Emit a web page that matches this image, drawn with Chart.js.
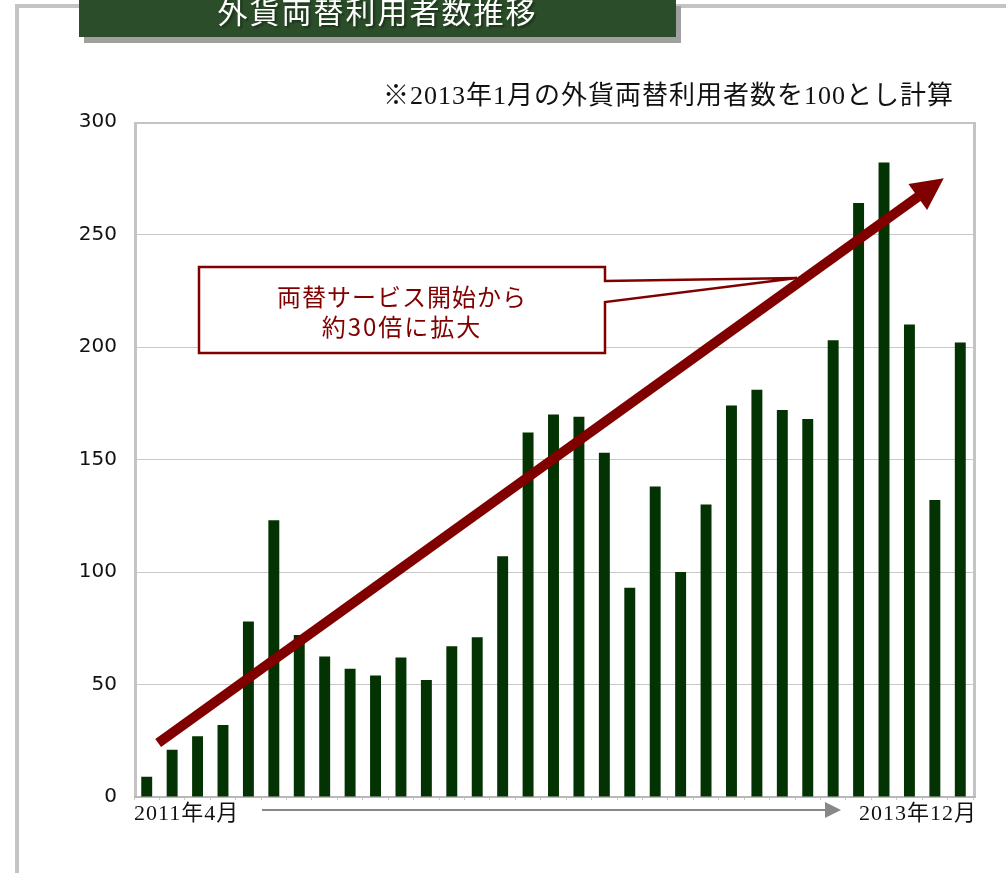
<!DOCTYPE html>
<html lang="ja">
<head>
<meta charset="utf-8">
<script src="https://cdn.jsdelivr.net/npm/chart.js@4/dist/chart.umd.min.js"></script>
<style>
  html, body { margin: 0; padding: 0; background: #fff; }
  #wrap { position: relative; width: 1006px; height: 873px; overflow: hidden; }
  #chart { position: absolute; left: 0; top: 0; }
  .frame-left { position: absolute; left: 15px; top: 4px; width: 4px; height: 869px; background: #c4c4c4; }
  .frame-top { position: absolute; left: 15px; top: 4px; width: 991px; height: 4px; background: #c4c4c4; }
  .title-shadow { position: absolute; left: 84px; top: 6px; width: 597px; height: 37px; background: #a0a0a0; }
  .title-box { position: absolute; left: 79px; top: 0; width: 597px; height: 37px; background: #2b4d29; overflow: hidden; }
  .title-box span { position: absolute; left: 0; top: -5px; width: 100%; text-align: center; color: #fff;
    font: 30px "Noto Sans CJK JP"; line-height: 30px; letter-spacing: 2px; text-shadow: 2px 2px 2px rgba(0,0,0,.35); }
  .note { position: absolute; left: 383px; top: 83px; color: #111; white-space: nowrap;
    font: 26px "Liberation Serif", "Noto Sans CJK JP"; line-height: 26px; letter-spacing: 1px; }
  .callout { position: absolute; left: 199px; top: 281px; width: 406px; text-align: center; color: #800000;
    font: 24px "Noto Sans CJK JP"; line-height: 30px; letter-spacing: 1px; }
  .callout .l2 { letter-spacing: 2px; }
  .xlab { position: absolute; top: 802px; color: #111; white-space: nowrap;
    font: 22px "Liberation Serif", "Noto Sans CJK JP"; line-height: 22px; letter-spacing: 1px; }
  .span-line { position: absolute; left: 262px; top: 809px; width: 566px; height: 2px; background: #888; }
  .span-head { position: absolute; left: 825px; top: 802px; width: 0; height: 0;
    border-left: 16px solid #888; border-top: 8px solid transparent; border-bottom: 8px solid transparent; }
</style>
</head>
<body>
<div id="wrap">
  <canvas id="chart" width="1006" height="873"></canvas>
  <div class="frame-left"></div>
  <div class="frame-top"></div>
  <div class="title-shadow"></div>
  <div class="title-box"><span id="title"></span></div>
  <div class="note" id="note"></div>
  <div class="callout" id="callout"></div>
  <div class="xlab" id="xFirst" style="left:134px"></div>
  <div class="xlab" id="xLast" style="right:29px"></div>
  <div class="span-line"></div>
  <div class="span-head"></div>
</div>
<script>
// 2011年4月〜2013年12月
const months = [
  '2011年4月', '2011年5月', '2011年6月', '2011年7月', '2011年8月', '2011年9月',
  '2011年10月', '2011年11月', '2011年12月', '2012年1月', '2012年2月', '2012年3月',
  '2012年4月', '2012年5月', '2012年6月', '2012年7月', '2012年8月', '2012年9月',
  '2012年10月', '2012年11月', '2012年12月', '2013年1月', '2013年2月', '2013年3月',
  '2013年4月', '2013年5月', '2013年6月', '2013年7月', '2013年8月', '2013年9月',
  '2013年10月', '2013年11月', '2013年12月'
];
// 2013年1月 = 100
const userIndex = [
  9, 21, 27, 32, 78, 123, 72, 62.5, 57, 54, 62, 52,
  67, 71, 107, 162, 170, 169, 153, 93, 138, 100, 130, 174,
  181, 172, 168, 203, 264, 282, 210, 132, 202
];
const yTicks = [0, 50, 100, 150, 200, 250, 300];

const titleText = '外貨両替利用者数推移';
const noteText = '※2013年1月の外貨両替利用者数を100とし計算';
const calloutLines = ['両替サービス開始から', '約30倍に拡大'];

// trend arrow and callout tip, in (category index, value)
const trendFrom = [0.45, 24];
const trendTo = [31.35, 275];
const calloutTip = [25.58, 230.7];

document.getElementById('title').textContent = titleText;
document.getElementById('note').textContent = noteText;
document.getElementById('callout').innerHTML =
  '<div>' + calloutLines[0] + '</div><div class="l2">' + calloutLines[1] + '</div>';
document.getElementById('xFirst').textContent = months[0];
document.getElementById('xLast').textContent = months[months.length - 1];

const decor = {
  id: 'decor',
  beforeDatasetsDraw(chart) {
    const { ctx, chartArea: a } = chart;
    ctx.save();
    ctx.strokeStyle = '#c4c4c4';
    ctx.lineWidth = 3;
    ctx.beginPath();
    ctx.moveTo(a.left + 1.5, a.top); ctx.lineTo(a.left + 1.5, a.bottom);
    ctx.moveTo(a.right + 1.5, a.top); ctx.lineTo(a.right + 1.5, a.bottom);
    ctx.stroke();
    ctx.lineWidth = 2;
    ctx.beginPath();
    ctx.moveTo(a.left, a.top + 1); ctx.lineTo(a.right + 3, a.top + 1);
    ctx.stroke();
    ctx.strokeStyle = '#b8b8b8';
    ctx.beginPath();
    ctx.moveTo(a.left, a.bottom); ctx.lineTo(a.right + 3, a.bottom);
    ctx.stroke();
    ctx.restore();
  },
  afterDatasetsDraw(chart) {
    const { ctx } = chart;
    const xs = chart.scales.x, ys = chart.scales.y;

    // callout box
    const tx = xs.getPixelForValue(calloutTip[0]);
    const ty = ys.getPixelForValue(calloutTip[1]);
    ctx.save();
    ctx.beginPath();
    ctx.moveTo(199, 267);
    ctx.lineTo(605, 267);
    ctx.lineTo(605, 281);
    ctx.lineTo(tx, ty);
    ctx.lineTo(605, 302);
    ctx.lineTo(605, 353);
    ctx.lineTo(199, 353);
    ctx.closePath();
    ctx.fillStyle = '#fff';
    ctx.fill();
    ctx.strokeStyle = '#800000';
    ctx.lineWidth = 2.5;
    ctx.lineJoin = 'miter';
    ctx.stroke();

    // trend arrow
    const x0 = xs.getPixelForValue(trendFrom[0]), y0 = ys.getPixelForValue(trendFrom[1]);
    const x1 = xs.getPixelForValue(trendTo[0]), y1 = ys.getPixelForValue(trendTo[1]);
    const len = Math.hypot(x1 - x0, y1 - y0);
    const ux = (x1 - x0) / len, uy = (y1 - y0) / len;
    const headLen = 32, headHalf = 16;
    const bx = x1 - ux * headLen, by = y1 - uy * headLen;
    ctx.strokeStyle = '#800000';
    ctx.lineWidth = 10;
    ctx.lineCap = 'butt';
    ctx.beginPath();
    ctx.moveTo(x0, y0);
    ctx.lineTo(bx + ux * 2, by + uy * 2);
    ctx.stroke();
    ctx.fillStyle = '#800000';
    ctx.beginPath();
    ctx.moveTo(x1, y1);
    ctx.lineTo(bx - uy * headHalf, by + ux * headHalf);
    ctx.lineTo(bx + uy * headHalf, by - ux * headHalf);
    ctx.closePath();
    ctx.fill();
    ctx.restore();
  }
};

new Chart(document.getElementById('chart').getContext('2d'), {
  type: 'bar',
  data: {
    labels: months,
    datasets: [{
      data: userIndex,
      backgroundColor: '#033303',
      borderWidth: 0,
      categoryPercentage: 1,
      barPercentage: 0.43
    }]
  },
  options: {
    responsive: false,
    animation: false,
    layout: { padding: { left: 0, top: 122, right: 33, bottom: 0 } },
    plugins: { legend: { display: false }, tooltip: { enabled: false } },
    scales: {
      x: {
        afterFit: (s) => { s.height = 76; },
        ticks: { display: false },
        border: { display: false },
        grid: { drawOnChartArea: false, drawTicks: true, tickLength: 3, color: '#c8c8c8', offset: true }
      },
      y: {
        min: yTicks[0],
        max: yTicks[yTicks.length - 1],
        afterFit: (s) => { s.width = 134; },
        afterBuildTicks: (s) => { s.ticks = yTicks.map(v => ({ value: v })); },
        ticks: { padding: 17, color: '#111', font: { family: 'DejaVu Sans', size: 20 } },
        border: { display: false },
        grid: { color: '#c8c8c8', lineWidth: 1, drawTicks: false }
      }
    }
  },
  plugins: [decor]
});
</script>
</body>
</html>
